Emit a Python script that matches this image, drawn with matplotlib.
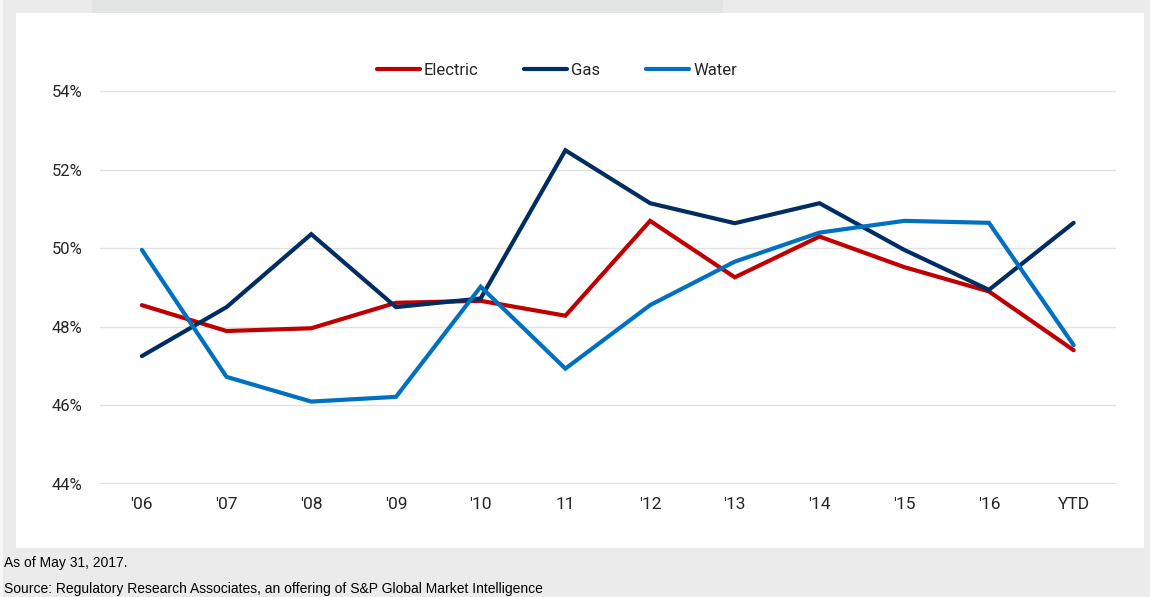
import matplotlib
matplotlib.use("Agg")
import matplotlib.pyplot as plt
from matplotlib.patches import Rectangle
from matplotlib.ticker import FuncFormatter

categories = ["'06", "'07", "'08", "'09", "'10", "11", "'12", "'13", "'14", "'15", "'16", "YTD"]
electric = [48.55, 47.89, 47.96, 48.61, 48.66, 48.28, 50.70, 49.26, 50.30, 49.52, 48.90, 47.40]
gas = [47.25, 48.50, 50.36, 48.50, 48.72, 52.50, 51.15, 50.64, 51.15, 49.96, 48.94, 50.65]
water = [49.96, 46.72, 46.09, 46.21, 49.02, 46.93, 48.55, 49.66, 50.40, 50.70, 50.65, 47.53]
y_ticks = [44, 46, 48, 50, 52, 54]
footnote = "As of May 31, 2017."
source = "Source: Regulatory Research Associates, an offering of S&P Global Market Intelligence"

W, H = 1150, 597
fig = plt.figure(figsize=(W / 100, H / 100), dpi=100)
fig.patch.set_facecolor("#ebebeb")

def px_rect(x0, y0, x1, y1, color):
    fig.patches.append(Rectangle((x0 / W, 1 - y1 / H), (x1 - x0) / W, (y1 - y0) / H,
                                 transform=fig.transFigure, facecolor=color,
                                 edgecolor="none", zorder=0))

px_rect(0, 0, 3, H, "#f7f7f7")
px_rect(92, 0, 723, 13, "#e3e4e4")
px_rect(16, 13, 1144, 548, "white")

ax = fig.add_axes([99.5 / W, 1 - 483.5 / H, (1116 - 99.5) / W, (483.5 - 91.5) / H])
ax.set_facecolor("white")
ax.set_zorder(2)

x = list(range(len(categories)))
ax.plot(x, electric, color="#c00000", lw=3.0, label="Electric", solid_capstyle="round", solid_joinstyle="miter", zorder=3)
ax.plot(x, gas, color="#002d62", lw=3.0, label="Gas", solid_capstyle="round", solid_joinstyle="miter", zorder=3)
ax.plot(x, water, color="#0070c0", lw=3.0, label="Water", solid_capstyle="round", solid_joinstyle="miter", zorder=3)

ax.set_xlim(-0.5, len(categories) - 0.5)
ax.set_ylim(44, 54)
ax.set_yticks(y_ticks)
ax.yaxis.set_major_formatter(FuncFormatter(lambda v, p: f"{v:.0f}%"))
ax.set_xticks(x)
ax.set_xticklabels(categories)
ax.grid(axis="y", color="#e2e2e2", lw=1)
ax.set_axisbelow(True)
for s in ax.spines.values():
    s.set_visible(False)
ax.tick_params(axis="both", length=0)
ax.tick_params(axis="y", pad=12, labelsize=12, labelcolor="#262626")
ax.tick_params(axis="x", pad=10, labelsize=12.5, labelcolor="#262626")
for lab in ax.get_yticklabels():
    lab.set_family(["Roboto", "DejaVu Sans"])
for lab in ax.get_xticklabels():
    lab.set_family(["Liberation Sans Narrow", "Roboto", "DejaVu Sans"])

leg = ax.legend(loc="center", ncol=3, frameon=False, handlelength=2.58, handletextpad=0.24,
                columnspacing=2.75, prop={"family": ["Roboto", "DejaVu Sans"], "size": 12})
leg.set_bbox_to_anchor((557 / W, 1 - 70.7 / H), transform=fig.transFigure)
for t in leg.get_texts():
    t.set_color("#262626")

fig.text(4 / W, 1 - 563 / H, footnote, family=["Liberation Sans", "DejaVu Sans"], size=10,
         va="center", ha="left", color="black")
fig.text(4 / W, 1 - 589 / H, source, family=["Liberation Sans", "DejaVu Sans"], size=10,
         va="center", ha="left", color="black")

fig.savefig("out.png", dpi=100, facecolor=fig.get_facecolor())
